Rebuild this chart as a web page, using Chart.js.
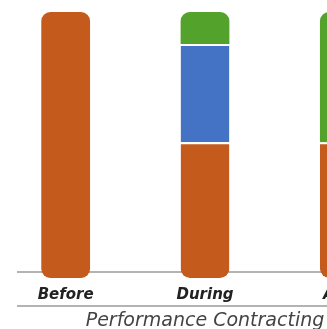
<!DOCTYPE html>
<html lang="en">
<head>
  <meta charset="UTF-8">
  <title>Performance Contracting</title>
  <script src="https://cdn.jsdelivr.net/npm/chart.js@4/dist/chart.umd.min.js"></script>
  <style>
    html, body { margin: 0; padding: 0; background: #fff; overflow: hidden; }
    #wrap { position: absolute; left: -4px; top: 0; width: 418px; height: 329px; }
  </style>
</head>
<body>
  <div id="wrap"><canvas id="perf-chart"></canvas></div>
  <script>
    // values (share of total, bottom to top)
    const phases = ['Before', 'During', 'After'];
    const orangePart = [100, 51, 51];
    const bluePart = [0, 37, 0];
    const greenPart = [0, 12, 49];
    const axisTitle = 'Performance Contracting';

    const parts = [orangePart, bluePart, greenPart];
    const colors = ['#C55A1D', '#4472C4', '#52A22C'];

    // turn the stacked parts into floating [start, end] segments
    function segments(k) {
      return phases.map((p, i) => {
        if (!parts[k][i]) return null;
        let start = 0;
        for (let j = 0; j < k; j++) start += parts[j][i];
        return [start, start + parts[k][i]];
      });
    }

    function isTop(k, i) {
      for (let j = k + 1; j < parts.length; j++) if (parts[j][i]) return false;
      return true;
    }

    const R = 9;
    const datasets = parts.map((vals, k) => ({
      label: 'part ' + k,
      data: segments(k),
      backgroundColor: colors[k],
      borderColor: '#ffffff',
      borderSkipped: false,
      borderWidth: ctx => isTop(k, ctx.dataIndex) ? 0 : { top: 2, bottom: 0, left: 0, right: 0 },
      borderRadius: ctx => {
        const top = isTop(k, ctx.dataIndex) ? R : 0;
        const bot = k === 0 ? R : 0;
        return { topLeft: top, topRight: top, bottomLeft: bot, bottomRight: bot };
      },
      categoryPercentage: 1,
      barPercentage: 0.35
    }));

    // gray rules: baseline behind the bars, and one under the phase labels
    const rules = {
      id: 'rules',
      beforeDatasetsDraw(chart) {
        const { ctx, chartArea, scales } = chart;
        const y0 = scales.y.getPixelForValue(0) - 6;
        ctx.save();
        ctx.strokeStyle = '#9a9a9a';
        ctx.lineWidth = 1.5;
        ctx.beginPath();
        ctx.moveTo(chartArea.left + 21, y0);
        ctx.lineTo(chartArea.right, y0);
        ctx.stroke();
        ctx.restore();
      },
      afterDraw(chart) {
        const { ctx, chartArea } = chart;
        const y1 = chartArea.bottom + 28;
        ctx.save();
        ctx.strokeStyle = '#9a9a9a';
        ctx.lineWidth = 1.5;
        ctx.beginPath();
        ctx.moveTo(chartArea.left + 21, y1);
        ctx.lineTo(chartArea.right, y1);
        ctx.stroke();
        ctx.restore();
      }
    };

    new Chart(document.getElementById('perf-chart'), {
      type: 'bar',
      data: { labels: phases, datasets },
      plugins: [rules],
      options: {
        responsive: true,
        maintainAspectRatio: false,
        animation: false,
        layout: { padding: { top: 12, left: 0, right: 0, bottom: -1 } },
        plugins: { legend: { display: false }, tooltip: { enabled: false } },
        scales: {
          x: {
            stacked: true,
            grid: { display: false, drawTicks: false },
            border: { display: false },
            ticks: {
              padding: 10,
              color: '#222',
              font: { family: 'DejaVu Sans', size: 15, weight: 'bold', style: 'italic', lineHeight: 1 }
            },
            title: {
              display: true,
              text: axisTitle,
              color: '#444',
              padding: { top: 0, bottom: 0 },
              font: { family: 'DejaVu Sans', size: 19, style: 'italic', lineHeight: 0.9 }
            }
          },
          y: {
            stacked: false,
            display: false,
            min: 0,
            max: 100
          }
        }
      }
    });
  </script>
</body>
</html>
